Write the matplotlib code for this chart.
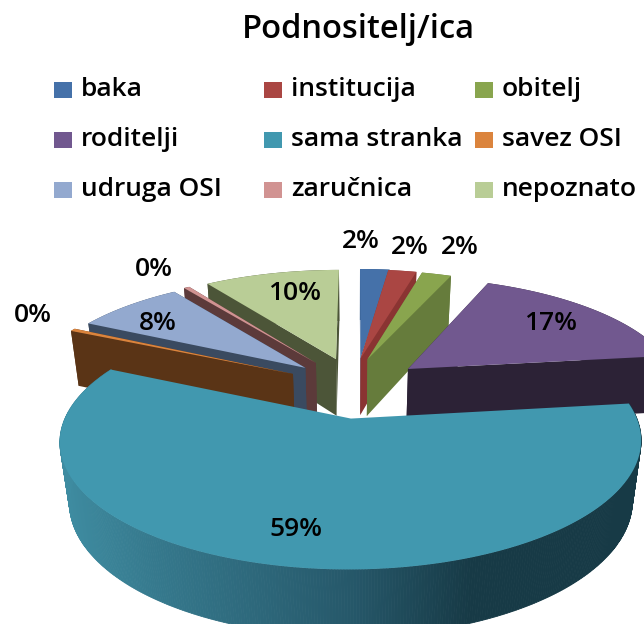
import numpy as np
import matplotlib
matplotlib.use('Agg')
import matplotlib.pyplot as plt
from matplotlib.colors import to_rgb

categories = ['baka', 'institucija', 'obitelj', 'roditelji', 'sama stranka',
              'savez OSI', 'udruga OSI', 'zaručnica', 'nepoznato']
values = [2.1, 2.0, 2.1, 16.8, 58.9, 0.4, 7.6, 0.4, 9.6]
labels = ['2%', '2%', '2%', '17%', '59%', '0%', '8%', '0%', '10%']
colors = ['#4571a9', '#aa4643', '#89a54e', '#71588f', '#4198af',
          '#db843d', '#93a9cf', '#d19392', '#b9cd96']
wall_colors = ['#335a8a', '#8a3432', '#667c3c', '#2c2236', '#173a46',
               '#5a3416', '#3a4a60', '#5c3a3a', '#4c5538']

# pixel layout of the fake 3d pie
X0, Y0 = 352, 387
A, B = 273, 113
K = 0.17
KZ = 0.03
H = 60
EXPLODE = 0.27
# small per slice shift, the original is not a clean projection
shift_x = [4, -5, -7, -1, 11, 6, 8, 5, 5]
draw_order = [8, 0, 1, 2, 7, 3, 6, 5, 4]

label_pos = [(361, 241), (410, 247), (460, 247), (551, 323), (296, 530),
             (33, 315), (158, 323), (154, 269), (295, 293)]
grad_x = [60, 150, 350, 470, 640]
grad_c = ['#3f8da2', '#367a8e', '#26586a', '#173a46', '#173a46']

plt.rcParams['font.family'] = ['Open Sans', 'DejaVu Sans']


def project(u, v, z, dx=0):
    s = 1 / (1 + K * v + KZ * z)
    return X0 + dx + A * u * s, Y0 - B * v * s + H * z * s


def wedge_arc(a0, a1, mid):
    t = np.radians(np.linspace(a0, a1, max(int(a1 - a0) * 2, 2)))
    cu, cv = EXPLODE * np.sin(np.radians(mid)), EXPLODE * np.cos(np.radians(mid))
    return cu, cv, cu + np.sin(t), cv + np.cos(t)


fig = plt.figure(figsize=(6.44, 6.24), dpi=100)
ax = fig.add_axes([0, 0, 1, 1])
ax.set_xlim(0, 644)
ax.set_ylim(624, 0)
ax.axis('off')

edges = np.cumsum([0] + values) / sum(values) * 360

for i in draw_order:
    a0, a1 = edges[i], edges[i + 1]
    mid = (a0 + a1) / 2
    cu, cv, u, v = wedge_arc(a0, a1, mid)
    dx = shift_x[i]

    # outer rim
    if i == 4:
        for j in range(len(u) - 1):
            x0, y0 = project(u[j:j + 2], v[j:j + 2], 0, dx)
            x1, y1 = project(u[j:j + 2], v[j:j + 2], 1, dx)
            xs = np.r_[x0, x1[::-1]]
            ys = np.r_[y0, y1[::-1]]
            rgb = [np.interp(xs.mean(), grad_x, [to_rgb(c)[k] for c in grad_c]) for k in range(3)]
            ax.fill(xs, ys, color=rgb, lw=0.6)
    else:
        x0, y0 = project(u, v, 0, dx)
        x1, y1 = project(u, v, 1, dx)
        ax.fill(np.r_[x0, x1[::-1]], np.r_[y0, y1[::-1]], color=wall_colors[i], lw=0)

    # radial walls
    for k in (0, -1):
        wu, wv = np.array([cu, u[k]]), np.array([cv, v[k]])
        x0, y0 = project(wu, wv, 0, dx)
        x1, y1 = project(wu, wv, 1, dx)
        if i != 4:
            ax.fill(np.r_[x0, x1[::-1]], np.r_[y0, y1[::-1]], color=wall_colors[i], lw=0)

    # top face
    x, y = project(np.r_[cu, u], np.r_[cv, v], 0, dx)
    ax.fill(x, y, color=colors[i], lw=0)

for lab, (x, y) in zip(labels, label_pos):
    ax.text(x, y, lab, ha='center', va='center', fontsize=19, fontweight='semibold', color='black')

ax.text(358, 29, 'Podnositelj/ica', ha='center', va='center', fontsize=23.5,
        fontweight='semibold', color='black')

# legend is filled row by row
for n, (name, c) in enumerate(zip(categories, colors)):
    col, row = n % 3, n // 3
    lx, ly = 54 + col * 210.5, 90 + row * 50
    ax.add_patch(plt.Rectangle((lx, ly - 8), 18, 16, color=c, lw=0))
    ax.text(lx + 27, ly, name, ha='left', va='center', fontsize=19, fontweight='semibold', color='black')

fig.savefig('out.png', dpi=100)
